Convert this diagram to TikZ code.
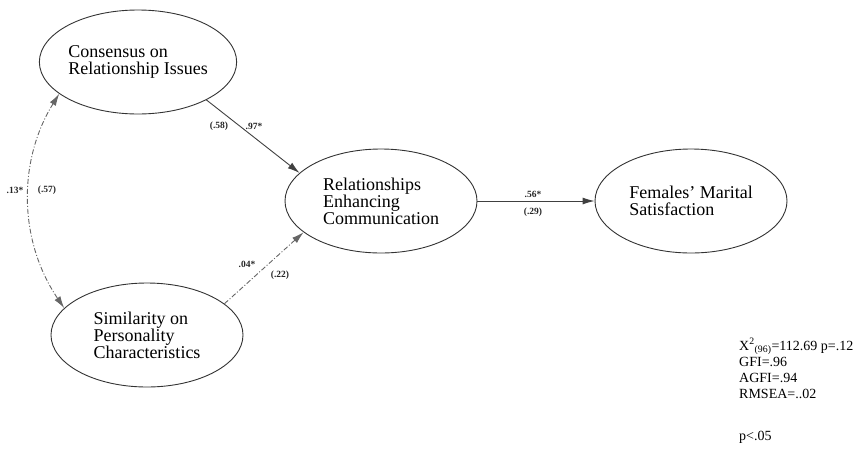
\documentclass[tikz,border=0pt]{standalone}
\usepackage{fontspec}
\setmainfont{Liberation Serif}
\usetikzlibrary{shapes.geometric,arrows.meta}

\tikzset{
  construct/.style={ellipse, draw=black!80, line width=0.9pt, minimum width=192pt,
    minimum height=104pt, inner sep=0pt, align=left, text=black,
    font=\fontsize{18}{17}\selectfont},
  coef/.style={font=\fontsize{9.5}{10}\selectfont\bfseries, inner sep=0pt, text=black!85},
  fit/.style={font=\fontsize{14}{16}\selectfont, inner sep=0pt, align=left, anchor=base west},
  path/.style={draw=black!75, line width=0.9pt, -{Latex[length=12pt,width=7pt]}},
  weakpath/.style={path, draw=black!60, dash pattern=on 5pt off 2pt on 1pt off 2pt},
  corr/.style={weakpath, {Latex[length=12pt,width=7pt]}-{Latex[length=12pt,width=7pt]}}
}

\begin{document}
\begin{tikzpicture}[x=1pt, y=-1pt]
  \useasboundingbox (0,0) rectangle (859,453);

  % latent constructs
  \node[construct] (cons) at (138,62)  {Consensus on\\Relationship Issues};
  \node[construct] (sim)  at (147,335) {Similarity on\\Personality\\Characteristics};
  \node[construct] (rec)  at (381,201) {Relationships\\Enhancing\\Communication};
  \node[construct] (fms)  at (691,201) {Females’ Marital\\Satisfaction};

  % structural paths
  \draw[path] (cons.-29) -- (rec.161);
  \draw[weakpath] (sim.22) -- (rec.202);
  \draw[path] (rec.east) -- (fms.west);
  \draw[corr] (cons.202) .. controls (18,160) and (18,240) .. (sim.162);

  % path coefficients
  \node[coef] (c13) at (15,190) {.13*};
  \node[coef] (c57) at (47,190) {(.57)};
  \node[coef] (c58) at (219,126) {(.58)};
  \node[coef] (c97) at (254,126) {.97*};
  \node[coef] (c04) at (247,264) {.04*};
  \node[coef] (c22) at (280,275) {(.22)};
  \node[coef] (c56) at (533,194) {.56*};
  \node[coef] (c29) at (533,212) {(.29)};

  % fit indices (base anchor sits on the last line)
  \node[fit] (stats) at (739,398)
    {X\textsuperscript{2}\textsubscript{(96)}=112.69 p=.12\\GFI=.96\\AGFI=.94\\RMSEA=..02};
  \node[fit] (sig) at (739,440) {p<.05};
\end{tikzpicture}
\end{document}
